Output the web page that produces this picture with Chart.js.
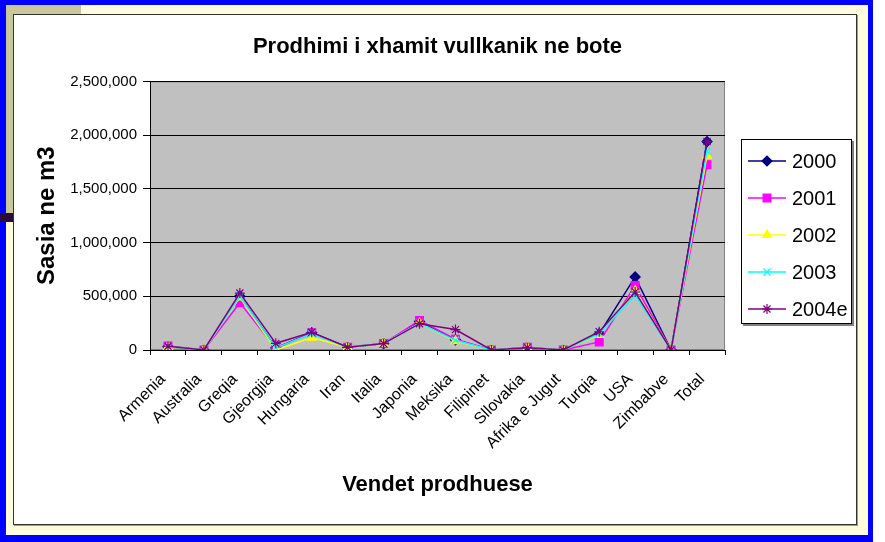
<!DOCTYPE html>
<html><head><meta charset="utf-8">
<script src="https://cdn.jsdelivr.net/npm/chart.js@4"></script>
<style>
html,body{margin:0;padding:0;background:#fff;}
#wrap{position:relative;width:885px;height:542px;overflow:hidden;background:#fff;}
.r{position:absolute;}
#c{position:absolute;left:0;top:0;}
</style></head><body>
<div id="wrap">
 <div class="r" style="left:0;top:0;width:873px;height:542px;background:#0000ff"></div>
 <div class="r" style="left:6px;top:5px;width:862px;height:530px;background:#fffbdc"></div>
 <div class="r" style="left:6px;top:5px;width:75px;height:9px;background:#c8c89a"></div>
 <div class="r" style="left:6px;top:5px;width:7px;height:208px;background:#c8c89a"></div>
 <div class="r" style="left:0;top:213px;width:13px;height:9px;background:#2b0b3b"></div>
 <div class="r" style="left:13px;top:14px;width:842px;height:509px;background:#fff;border:1px solid #333;box-shadow:1px 1px 0 #999"></div>
 <canvas id="c" width="885" height="542"></canvas>
</div>
<script>
const categories = ['Armenia','Australia','Greqia','Gjeorgjia','Hungaria','Iran','Italia','Japonia','Meksika','Filipinet','Sllovakia','Afrika e Jugut','Turqia','USA','Zimbabve','Total'];
const seriesNames = ['2000','2001','2002','2003','2004e'];
const v2000 = [30000, 0, 500000, 20000, 160000, 25000, 60000, 265000, 95000, 0, 20000, 0, 150000, 680000, 0, 1940000];
const v2001 = [38000, 0, 440000, 15000, 160000, 25000, 60000, 275000, 100000, 0, 25000, 0, 75000, 600000, 0, 1725000];
const v2002 = [30000, 0, 490000, 0, 115000, 25000, 60000, 250000, 83000, 0, 20000, 0, 140000, 550000, 0, 1810000];
const v2003 = [32000, 0, 500000, 20000, 150000, 25000, 60000, 250000, 90000, 0, 20000, 0, 150000, 510000, 0, 1850000];
const v2004e = [35000, 0, 530000, 62000, 165000, 25000, 60000, 245000, 190000, 0, 22000, 0, 170000, 540000, 0, 1940000];
const seriesValues = [v2000, v2001, v2002, v2003, v2004e];
const seriesColors = ['#000080','#ff00ff','#ffff00','#00ffff','#800080'];
const seriesMarkers = ['rectRot','rect','triangle','crossRot','star'];
const yTicks = [0, 500000, 1000000, 1500000, 2000000, 2500000];

const FONT = "'Liberation Sans', Arial, sans-serif";

const datasets = seriesNames.map((n, i) => ({
  label: n,
  data: seriesValues[i],
  borderColor: seriesColors[i],
  backgroundColor: seriesColors[i],
  pointStyle: seriesMarkers[i],
  pointRadius: i === 1 ? 5.5 : 5,
  pointBorderWidth: 1.2,
  borderWidth: 1.5,
  tension: 0,
  order: seriesNames.length - i
}));

const plotBg = {
  id: 'plotBg',
  beforeDraw(chart) {
    const {ctx, chartArea: a} = chart;
    ctx.save();
    ctx.fillStyle = '#c0c0c0';
    ctx.fillRect(a.left, a.top, a.right - a.left, a.bottom - a.top);
    ctx.strokeStyle = '#808080';
    ctx.lineWidth = 1;
    ctx.strokeRect(a.left + 0.5, a.top + 0.5, a.right - a.left - 1, a.bottom - a.top - 1);
    ctx.restore();
  }
};

const boxLegend = {
  id: 'boxLegend',
  afterDraw(chart) {
    const ctx = chart.ctx;
    const a = chart.chartArea;
    const bx = a.right + 16, by = 139, bw = 111, bh = 185;
    ctx.save();
    ctx.fillStyle = '#808080';
    ctx.fillRect(bx + 2, by + 2, bw, bh);
    ctx.fillStyle = '#ffffff';
    ctx.fillRect(bx, by, bw, bh);
    ctx.strokeStyle = '#000';
    ctx.lineWidth = 1;
    ctx.strokeRect(bx + 0.5, by + 0.5, bw - 1, bh - 1);
    chart.data.datasets.forEach((ds, i) => {
      const y = by + 22 + i * 37;
      const x0 = bx + 7, x1 = bx + 45;
      ctx.strokeStyle = ds.borderColor;
      ctx.lineWidth = ds.borderWidth;
      ctx.beginPath(); ctx.moveTo(x0, y); ctx.lineTo(x1, y); ctx.stroke();
      ctx.fillStyle = ds.backgroundColor;
      ctx.strokeStyle = ds.borderColor;
      ctx.lineWidth = ds.pointBorderWidth;
      Chart.helpers.drawPoint(ctx, {pointStyle: ds.pointStyle, radius: ds.pointRadius, borderWidth: ds.pointBorderWidth, rotation: 0}, (x0 + x1) / 2, y);
      ctx.fillStyle = '#000';
      ctx.font = '20px ' + FONT;
      ctx.textBaseline = 'middle';
      ctx.textAlign = 'left';
      ctx.fillText(ds.label, bx + 51, y + 1);
    });
    ctx.restore();
  }
};

new Chart(document.getElementById('c'), {
  type: 'line',
  data: { labels: categories, datasets },
  plugins: [plotBg, boxLegend],
  options: {
    responsive: false,
    animation: false,
    devicePixelRatio: 1,
    layout: { padding: { left: 13, right: 160, top: 14, bottom: 17 } },
    plugins: {
      legend: { display: false },
      tooltip: { enabled: false },
      title: {
        display: true,
        text: 'Prodhimi i xhamit vullkanik ne bote',
        fullSize: false,
        color: '#000',
        font: { family: FONT, size: 22, weight: 'bold' },
        padding: { top: 20, bottom: 21 }
      }
    },
    scales: {
      x: {
        type: 'category',
        offset: true,
        afterFit(s) { s.height = 175; },
        grid: { display: true, drawOnChartArea: false, drawTicks: true, tickLength: 5, color: '#000', offset: true },
        border: { display: true, color: '#000', width: 1 },
        ticks: {
          autoSkip: false, maxRotation: 45, minRotation: 45, padding: 15, labelOffset: -5,
          color: '#000', font: { family: FONT, size: 16 }
        },
        title: {
          display: true, text: 'Vendet prodhuese', color: '#000',
          font: { family: FONT, size: 22, weight: 'bold' },
          padding: { top: 0, bottom: 27 }
        }
      },
      y: {
        min: 0, max: 2500000,
        afterFit(s) { s.width = 137; },
        afterBuildTicks(s) { s.ticks = yTicks.map(v => ({ value: v })); },
        grid: { display: true, drawOnChartArea: true, drawTicks: true, tickLength: 7, color: '#000', lineWidth: 1 },
        border: { display: true, color: '#000', width: 1 },
        ticks: {
          padding: 6, color: '#000', font: { family: FONT, size: 15 },
          callback: v => Number(v).toLocaleString('en-US')
        },
        title: {
          display: true, text: 'Sasia ne m3', color: '#000',
          font: { family: FONT, size: 24, weight: 'bold' },
          padding: { top: 20, bottom: 0 }
        }
      }
    }
  }
});
</script>
</body></html>
